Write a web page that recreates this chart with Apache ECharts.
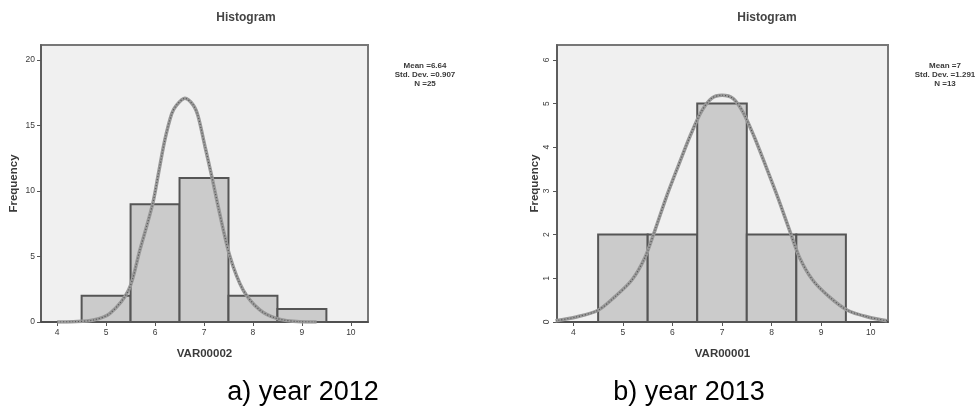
<!DOCTYPE html>
<html>
<head>
<meta charset="utf-8">
<script src="https://cdn.jsdelivr.net/npm/echarts@6/dist/echarts.min.js"></script>
<style>
html,body{margin:0;padding:0;background:#fff;}
#chart{width:979px;height:408px;}
</style>
</head>
<body>
<div id="chart"></div>
<script>
// ---- data ----
const binCenters2012 = [5, 6, 7, 8, 9];
const counts2012 = [2, 9, 11, 2, 1];
const binCenters2013 = [5, 6, 7, 8, 9];
const counts2013 = [2, 2, 5, 2, 2];
const binWidth = 1;

const curveX2012 = [4.0, 4.33, 4.74, 5.08, 5.46, 5.69, 5.95, 6.07, 6.20, 6.34, 6.44, 6.61, 6.78, 6.88, 7.02, 7.16, 7.29, 7.53, 7.80, 8.14, 8.48, 8.96, 9.3];
const curveY2012 = [0.0, 0.02, 0.15, 0.66, 2.44, 5.5, 9.0, 11.35, 13.9, 15.9, 16.56, 17.08, 16.56, 15.7, 13.4, 11.1, 8.8, 5.0, 2.44, 0.92, 0.28, 0.02, 0.0];

const curveX2013 = [3.64, 4.04, 4.50, 4.84, 5.18, 5.45, 5.65, 5.88, 6.11, 6.35, 6.58, 6.79, 7.00, 7.22, 7.42, 7.65, 7.89, 8.12, 8.36, 8.56, 8.83, 9.16, 9.53, 9.96, 10.33];
const curveY2013 = [0.03, 0.11, 0.27, 0.58, 0.96, 1.49, 2.11, 2.87, 3.55, 4.24, 4.81, 5.12, 5.19, 5.12, 4.81, 4.24, 3.55, 2.87, 2.11, 1.49, 0.96, 0.58, 0.27, 0.11, 0.03];

const xTicks = [4, 5, 6, 7, 8, 9, 10];
const yTicks2012 = [0, 5, 10, 15, 20];
const yTicks2013 = [0, 1, 2, 3, 4, 5, 6];

const stats2012 = ['Mean =6.64', 'Std. Dev. =0.907', 'N =25'];
const stats2013 = ['Mean =7', 'Std. Dev. =1.291', 'N =13'];
const xNames = ['VAR00002', 'VAR00001'];
const captions = ['a) year 2012', 'b) year 2013'];

// ---- build options ----
const FONT = 'Liberation Sans, Arial, sans-serif';
const TXT = '#3a3a3a';

function pairs(a, b) { return a.map((v, i) => [v, b[i]]); }

function renderBar(params, api) {
  const c = api.value(0), v = api.value(1);
  const p0 = api.coord([c - binWidth / 2, v]);
  const p1 = api.coord([c + binWidth / 2, 0]);
  return {
    type: 'rect',
    shape: { x: p0[0], y: p0[1], width: p1[0] - p0[0], height: p1[1] - p0[1] },
    style: { fill: '#cbcbcb', stroke: '#555', lineWidth: 2 }
  };
}

function xAxis(idx, name) {
  return {
    type: 'value', gridIndex: idx, min: 3.67, max: 10.35,
    name: name, nameLocation: 'middle', nameGap: 26,
    nameTextStyle: { fontFamily: FONT, fontSize: 11.5, fontWeight: 'bold', color: TXT },
    axisLine: { show: true, lineStyle: { color: '#444', width: 1.5 } },
    axisTick: { show: true, length: 4, customValues: xTicks, lineStyle: { color: '#555' } },
    axisLabel: { customValues: xTicks, fontFamily: FONT, fontSize: 8.5, color: TXT, margin: 6 },
    splitLine: { show: false }
  };
}

function yAxis(idx, max, ticks, gap, rot) {
  return {
    type: 'value', gridIndex: idx, min: 0, max: max,
    name: 'Frequency', nameLocation: 'middle', nameGap: gap,
    nameTextStyle: { fontFamily: FONT, fontSize: 11.5, fontWeight: 'bold', color: TXT },
    axisLine: { show: true, lineStyle: { color: '#555', width: 1.5 } },
    axisTick: { show: true, length: 4, customValues: ticks, lineStyle: { color: '#555' } },
    axisLabel: { customValues: ticks, fontFamily: FONT, fontSize: 8.5, color: TXT, margin: 6, rotate: rot },
    splitLine: { show: false }
  };
}

function curveSeries(idx, xs, ys) {
  return [
    { type: 'line', xAxisIndex: idx, yAxisIndex: idx, data: pairs(xs, ys), smooth: 0.3,
      showSymbol: false, clip: true, lineStyle: { color: '#9a9a9a', width: 3.5 }, z: 5, silent: true },
    { type: 'line', xAxisIndex: idx, yAxisIndex: idx, data: pairs(xs, ys), smooth: 0.3,
      showSymbol: false, clip: true, lineStyle: { color: '#555', width: 1.2, type: [1, 2] }, z: 6, silent: true }
  ];
}

function statText(cx, lines) {
  return lines.map((t, i) => ({
    type: 'text', x: cx, y: 66 + i * 9,
    style: { text: t, font: 'bold 8px ' + FONT, fill: TXT, align: 'center', verticalAlign: 'middle' }
  }));
}

const option = {
  animation: false,
  backgroundColor: '#fff',
  title: [
    { text: 'Histogram', left: 241, top: 7, textAlign: 'center',
      textStyle: { fontFamily: FONT, fontSize: 12, fontWeight: 'bold', color: '#444' } },
    { text: 'Histogram', left: 762, top: 7, textAlign: 'center',
      textStyle: { fontFamily: FONT, fontSize: 12, fontWeight: 'bold', color: '#444' } }
  ],
  grid: [
    { left: 41, top: 45, width: 327, height: 277, show: true, backgroundColor: '#f0f0f0', borderColor: '#777', borderWidth: 2 },
    { left: 557, top: 45, width: 331, height: 277, show: true, backgroundColor: '#f0f0f0', borderColor: '#777', borderWidth: 2 }
  ],
  xAxis: [xAxis(0, xNames[0]), xAxis(1, xNames[1])],
  yAxis: [yAxis(0, 21.15, yTicks2012, 21, 0), yAxis(1, 6.34, yTicks2013, 16, 90)],
  series: [
    { type: 'custom', xAxisIndex: 0, yAxisIndex: 0, renderItem: renderBar, data: pairs(binCenters2012, counts2012), z: 3 },
    { type: 'custom', xAxisIndex: 1, yAxisIndex: 1, renderItem: renderBar, data: pairs(binCenters2013, counts2013), z: 3 },
    ...curveSeries(0, curveX2012, curveY2012),
    ...curveSeries(1, curveX2013, curveY2013)
  ],
  graphic: [
    ...statText(425, stats2012),
    ...statText(945, stats2013),
    { type: 'text', x: 303, y: 393,
      style: { text: captions[0], font: '27px ' + FONT, fill: '#000', align: 'center', verticalAlign: 'middle' } },
    { type: 'text', x: 689, y: 393,
      style: { text: captions[1], font: '27px ' + FONT, fill: '#000', align: 'center', verticalAlign: 'middle' } }
  ]
};

const chart = echarts.init(document.getElementById('chart'), null, { renderer: 'canvas' });
chart.setOption(option);
</script>
</body>
</html>
